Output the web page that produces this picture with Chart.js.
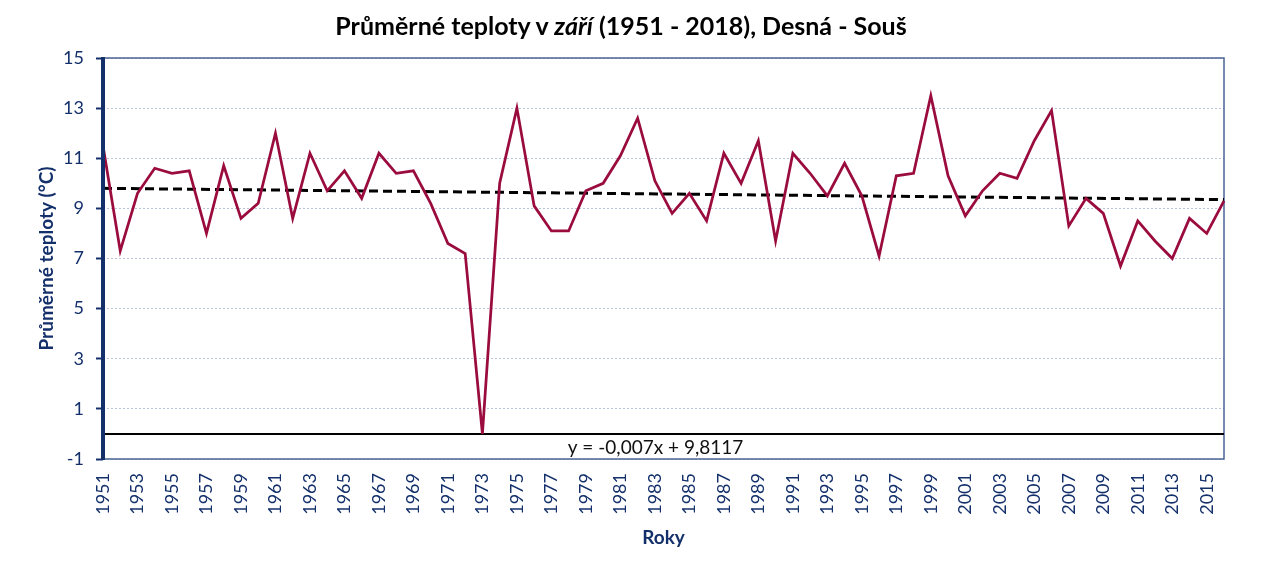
<!DOCTYPE html>
<html>
<head>
<meta charset="utf-8">
<script src="https://cdn.jsdelivr.net/npm/chart.js@4.4.1/dist/chart.umd.min.js"></script>
<style>
  html, body { margin: 0; padding: 0; background: #fff; }
  #wrap { position: relative; width: 1264px; height: 561px; }
  #title {
    position: absolute; left: 0; top: 13px; width: 1242px;
    text-align: center; font-family: Lato, sans-serif; font-weight: bold;
    font-size: 25px; line-height: 25px; color: #000;
  }
  canvas { position: absolute; left: 0; top: 0; }
</style>
</head>
<body>
<div id="wrap">
  <canvas id="chart" width="1264" height="561"></canvas>
  <div id="title">Průměrné teploty v <i>září</i> (1951 - 2018), Desná - Souš</div>
</div>
<script>
const years = [
  '1951', '1952', '1953', '1954', '1955', '1956', '1957', '1958', '1959', '1960',
  '1961', '1962', '1963', '1964', '1965', '1966', '1967', '1968', '1969', '1970',
  '1971', '1972', '1973', '1974', '1975', '1976', '1977', '1978', '1979', '1980',
  '1981', '1982', '1983', '1984', '1985', '1986', '1987', '1988', '1989', '1990',
  '1991', '1992', '1993', '1994', '1995', '1996', '1997', '1998', '1999', '2000',
  '2001', '2002', '2003', '2004', '2005', '2006', '2007', '2008', '2009', '2010',
  '2011', '2012', '2013', '2014', '2015', '2016'
];
const temps = [
  11.5, 7.3, 9.6, 10.6, 10.4, 10.5, 8.0, 10.7, 8.6, 9.2,
  12.0, 8.6, 11.2, 9.7, 10.5, 9.4, 11.2, 10.4, 10.5, 9.2,
  7.6, 7.2, 0.0, 10.0, 13.0, 9.1, 8.1, 8.1, 9.7, 10.0,
  11.1, 12.6, 10.1, 8.8, 9.6, 8.5, 11.2, 10.0, 11.7, 7.7,
  11.2, 10.4, 9.5, 10.8, 9.5, 7.1, 10.3, 10.4, 13.5, 10.3,
  8.7, 9.7, 10.4, 10.2, 11.7, 12.9, 8.3, 9.4, 8.8, 6.7,
  8.5, 7.7, 7.0, 8.6, 8.0, 9.3
];
// trend line end points (y = -0,007x + 9,8117)
const trendYears = ['1951', '2016'];
const trendValues = [9.80, 9.35];
const trendLabel = 'y = -0,007x + 9,8117';
const yMin = -1, yMax = 15, yStep = 2;

const navy = '#14306b';
const frame = '#4a6394';

const framePlugin = {
  id: 'frame',
  beforeDatasetsDraw(chart) {
    const { ctx, chartArea: a, scales } = chart;
    ctx.save();
    // plot border
    ctx.strokeStyle = frame;
    ctx.lineWidth = 1.5;
    ctx.strokeRect(a.left, a.top, a.right - a.left, a.bottom - a.top);
    // horizontal axis crossing at 0
    const y0 = scales.y.getPixelForValue(0);
    ctx.strokeStyle = '#000';
    ctx.lineWidth = 2;
    ctx.beginPath();
    ctx.moveTo(a.left, y0);
    ctx.lineTo(a.right, y0);
    ctx.stroke();
    ctx.restore();
  },
  afterDraw(chart) {
    const { ctx, chartArea: a, scales } = chart;
    ctx.save();
    // vertical axis line
    ctx.strokeStyle = navy;
    ctx.lineWidth = 4;
    ctx.beginPath();
    ctx.moveTo(a.left, a.top - 1);
    ctx.lineTo(a.left, a.bottom + 1);
    ctx.stroke();
    // trend equation
    ctx.font = '19px Lato';
    ctx.fillStyle = '#111';
    ctx.textAlign = 'center';
    ctx.textBaseline = 'middle';
    ctx.fillText(trendLabel, (a.left + a.right) / 2 - 8, scales.y.getPixelForValue(-0.5) + 1);
    ctx.restore();
  }
};

const ctx = document.getElementById('chart').getContext('2d');
new Chart(ctx, {
  type: 'line',
  data: {
    labels: years,
    datasets: [
      {
        label: 'Teplota',
        data: temps,
        borderColor: '#9b0c3e',
        borderWidth: 2.75,
        pointRadius: 0,
        tension: 0,
        fill: false
      },
      {
        label: 'Trend',
        data: trendYears.map((yr, i) => ({ x: yr, y: trendValues[i] })),
        borderColor: '#000',
        borderWidth: 3,
        borderDash: [9, 5],
        pointRadius: 0,
        fill: false
      }
    ]
  },
  options: {
    responsive: false,
    animation: false,
    layout: { padding: { top: 58, right: 40, left: 0, bottom: 0 } },
    plugins: {
      legend: { display: false },
      title: { display: false },
      tooltip: { enabled: false }
    },
    scales: {
      x: {
        offset: false,
        afterFit: s => { s.height = 102; },
        grid: { display: false, drawTicks: false },
        border: { display: false },
        ticks: {
          autoSkip: false,
          minRotation: 90,
          maxRotation: 90,
          padding: 14,
          color: navy,
          font: { family: 'Lato', size: 18 },
          callback: function (value, index) {
            return index % 2 === 0 ? this.getLabelForValue(value) : '';
          }
        },
        title: {
          display: true,
          text: 'Roky',
          color: navy,
          font: { family: 'Lato', size: 19, weight: 'bold' },
          padding: { top: 0, bottom: 12 }
        }
      },
      y: {
        min: yMin,
        max: yMax,
        afterFit: s => { s.width = 103; },
        afterBuildTicks: s => {
          const t = [];
          for (let v = yMin; v <= yMax; v += yStep) t.push({ value: v });
          s.ticks = t;
        },
        grid: {
          color: '#b8c2d8',
          lineWidth: 1,
          tickLength: 7,
          tickColor: navy,
          tickWidth: 2,
          tickBorderDash: []
        },
        border: { display: false, dash: [2, 2] },
        ticks: {
          padding: 12,
          color: navy,
          font: { family: 'Lato', size: 18 }
        },
        title: {
          display: true,
          text: 'Průměrné teploty (°C)',
          color: navy,
          font: { family: 'Lato', size: 19, weight: 'bold' },
          padding: { top: 35, bottom: 0 }
        }
      }
    }
  },
  plugins: [framePlugin]
});
</script>
</body>
</html>
